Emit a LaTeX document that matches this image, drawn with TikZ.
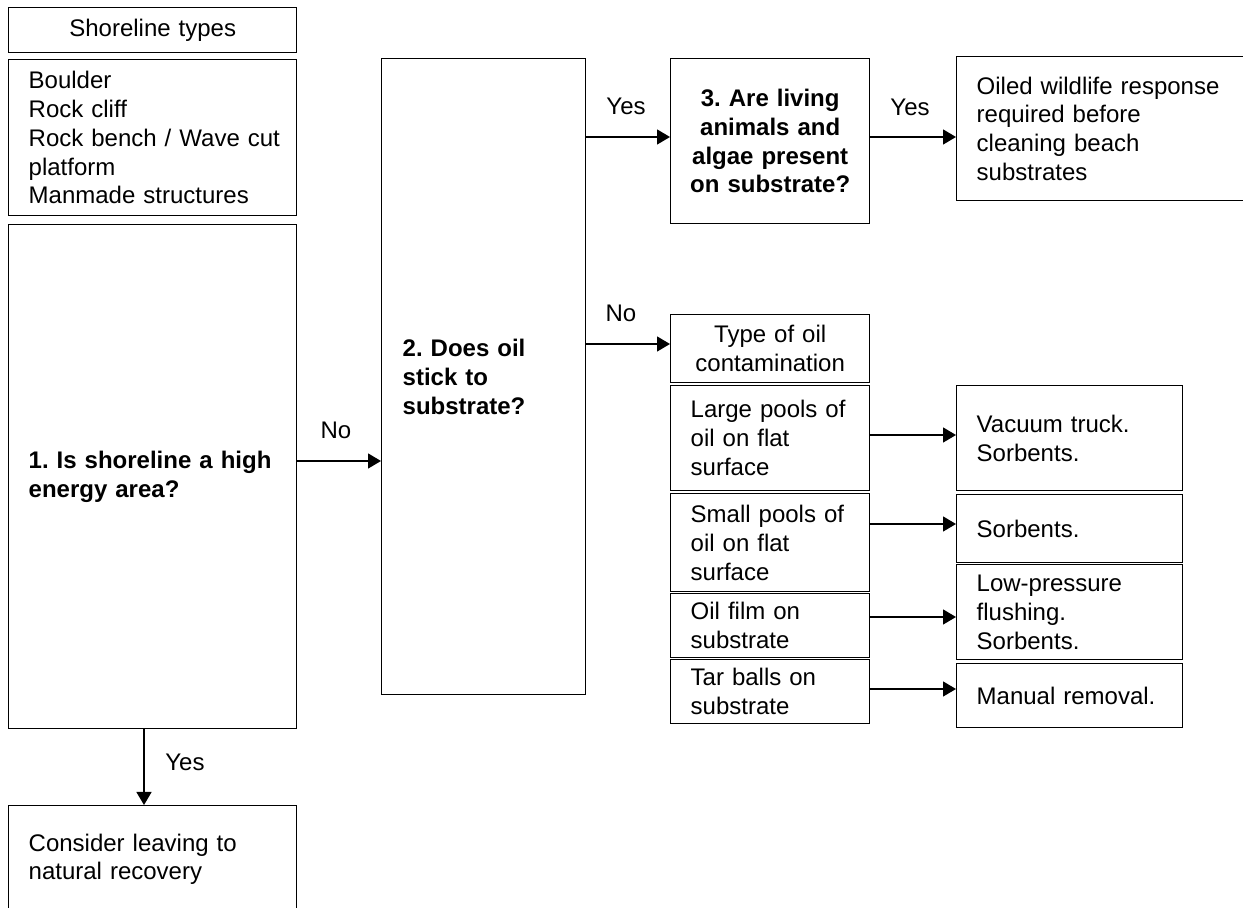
\documentclass[tikz,border=0pt]{standalone}
\usepackage{fontspec}
\setmainfont{Liberation Sans}
\usetikzlibrary{arrows.meta}
\frenchspacing
\begin{document}
\begin{tikzpicture}[x=0.5pt,y=-0.5pt,
  box/.style={draw, line width=0.7pt, anchor=north west, inner xsep=10pt, inner ysep=0pt,
    font=\fontsize{12}{14.4}\selectfont},
  lbox/.style={box, align=left},
  cbox/.style={box, align=center},
  arr/.style={line width=0.7pt, -{Triangle[length=6.5pt,width=7.5pt]}},
  lab/.style={font=\fontsize{12}{14.4}\selectfont, inner sep=0pt}]
\useasboundingbox (0,0) rectangle (1243,908);
% left column
\node[cbox, minimum width=144pt, minimum height=22.5pt, text width=124pt] (st) at (8,7) {Shoreline types};
\node[lbox, minimum width=144pt, minimum height=78pt, text width=124pt] (list) at (8,59)
  {Boulder\\Rock cliff\\\mbox{Rock bench / Wave cut}\\platform\\Manmade structures};
\node[lbox, minimum width=144pt, minimum height=252pt, text width=124pt, font=\fontsize{12}{14.4}\selectfont\bfseries] (q1) at (8,224)
  {1. Is shoreline a high\\energy area?};
\node[lbox, minimum width=144pt, minimum height=53.5pt, text width=124pt] (cons) at (8,805)
  {Consider leaving to\\natural recovery};
% middle
\node[lbox, minimum width=102pt, minimum height=318pt, text width=81pt, inner xsep=10.5pt, font=\fontsize{12}{14.4}\selectfont\bfseries] (q2) at (381,58)
  {2. Does oil\\stick to\\substrate?};
\node[cbox, minimum width=99.5pt, minimum height=82.5pt, text width=85pt, inner xsep=7.25pt, font=\fontsize{12}{14.4}\selectfont\bfseries] (q3) at (670,58)
  {3. Are living\\animals and\\algae present\\on substrate?};
\node[lbox, minimum width=152pt, minimum height=72pt, text width=132pt] (owr) at (956,56)
  {Oiled wildlife response\\required before\\cleaning beach\\substrates};
% oil type column
\node[cbox, minimum width=99.5pt, minimum height=34pt, text width=89.5pt, inner xsep=5pt] (type) at (670,314)
  {Type of oil\\contamination};
\node[lbox, minimum width=99.5pt, minimum height=52.5pt, text width=79.5pt] (lp) at (670,385)
  {Large pools of\\oil on flat\\surface};
\node[lbox, minimum width=99.5pt, minimum height=49pt, text width=79.5pt] (sp) at (670,493)
  {Small pools of\\oil on flat\\surface};
\node[lbox, minimum width=99.5pt, minimum height=32pt, text width=79.5pt] (of) at (670,593)
  {Oil film on\\substrate};
\node[lbox, minimum width=99.5pt, minimum height=32pt, text width=79.5pt] (tb) at (670,659)
  {Tar balls on\\substrate};
% responses
\node[lbox, minimum width=113pt, minimum height=52.5pt, text width=93pt] (vt) at (956,385)
  {Vacuum truck.\\Sorbents.};
\node[lbox, minimum width=113pt, minimum height=34pt, text width=93pt] (so) at (956,494)
  {Sorbents.};
\node[lbox, minimum width=113pt, minimum height=47.5pt, text width=93pt] (lpf) at (956,564)
  {Low-pressure\\flushing.\\Sorbents.};
\node[lbox, minimum width=113pt, minimum height=32pt, text width=93pt] (mr) at (956,663)
  {Manual removal.};
% helper coordinates
\coordinate (x1) at (144,0);
\coordinate (y1) at (0,461);
\coordinate (y2) at (0,137);
\coordinate (y3) at (0,344);
\coordinate (y4) at (0,435);
\coordinate (y5) at (0,524);
\coordinate (y6) at (0,617);
\coordinate (y7) at (0,689);
% connectors
\draw[arr] (q1.south -| x1) -- (cons.north -| x1);
\node[lab] (lyes1) at (185,762) {Yes};
\draw[arr] (q1.east |- y1) -- (q2.west |- y1);
\node[lab] (lno1) at (336,430) {No};
\draw[arr] (q2.east |- y2) -- (q3.west |- y2);
\node[lab] (lyes2) at (626,106) {Yes};
\draw[arr] (q3.east |- y2) -- (owr.west |- y2);
\node[lab] (lyes3) at (910,107) {Yes};
\draw[arr] (q2.east |- y3) -- (type.west |- y3);
\node[lab] (lno2) at (621,313) {No};
\draw[arr] (lp.east |- y4) -- (vt.west |- y4);
\draw[arr] (sp.east |- y5) -- (so.west |- y5);
\draw[arr] (of.east |- y6) -- (lpf.west |- y6);
\draw[arr] (tb.east |- y7) -- (mr.west |- y7);
\end{tikzpicture}
\end{document}
